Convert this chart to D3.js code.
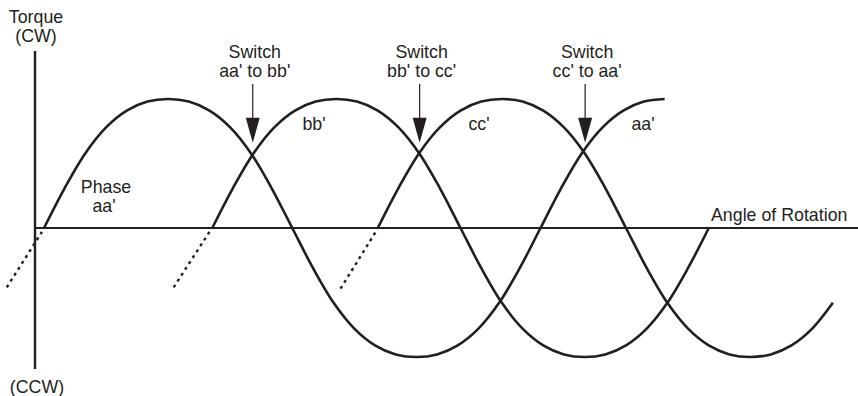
<!DOCTYPE html>
<html lang="en">
<head>
    <meta charset="utf-8">
    <title>Phase switching</title>
    <style>
        body {
            margin: 0;
            background: #fff;
        }
        text {
            font-family: "Liberation Sans", Arial, sans-serif;
            font-size: 17.8px;
            fill: #231f20;
        }
    </style>
</head>
<body>
<svg id="chart"></svg>
<script src="https://d3js.org/d3.v7.min.js"></script>
<script>
    const chartWidth = 858;
    const chartHeight = 396;

    // torque curves (angle in degrees, torque as fraction of peak)
    const aaAngle = [0, 15, 30, 45, 60, 75, 90, 105, 120, 135, 150, 165, 180, 195, 210, 225, 240, 255, 270, 285, 300, 315, 330, 345, 360, 375, 390, 405, 420, 435, 450];
    const aaTorque = [0, .31, .58, .78, .91, .98, 1, .98, .91, .78, .58, .31, 0, -.31, -.58, -.78, -.91, -.98, -1, -.98, -.91, -.78, -.58, -.31, 0, .31, .58, .78, .91, .98, 1];
    const bbAngle = [122, 137, 152, 167, 182, 197, 212, 227, 242, 257, 272, 287, 302, 317, 332, 347, 362, 377, 392, 407, 422, 437, 452, 467, 482];
    const bbTorque = [0, .31, .58, .78, .91, .98, 1, .98, .91, .78, .58, .31, 0, -.31, -.58, -.78, -.91, -.98, -1, -.98, -.91, -.78, -.58, -.31, 0];
    const ccAngle = [242, 257, 272, 287, 302, 317, 332, 347, 362, 377, 392, 407, 422, 437, 452, 467, 482, 497, 512, 527, 542, 557, 572];
    const ccTorque = [0, .31, .58, .78, .91, .98, 1, .98, .91, .78, .58, .31, 0, -.31, -.58, -.78, -.91, -.98, -1, -.98, -.91, -.78, -.58];

    // dotted lead-ins below the axis
    const aaLeadAngle = [-27, -1.5];
    const aaLeadTorque = [-.46, -.03];
    const bbLeadAngle = [94, 120];
    const bbLeadTorque = [-.46, -.03];
    const ccLeadAngle = [215, 240.5];
    const ccLeadTorque = [-.47, -.03];

    // switching points
    const switchAngle = [151, 272, 392];
    const switchTorque = [.56, .56, .56];
    const switchLine1 = ["Switch", "Switch", "Switch"];
    const switchLine2 = ["aa' to bb'", "bb' to cc'", "cc' to aa'"];

    const svg = d3.select("#chart").attr("width", chartWidth).attr("height", chartHeight);

    const x = d3.scaleLinear().domain([0, 360]).range([44, 540.5]);
    const y = d3.scaleLinear().domain([-1, 1]).range([357, 99]);

    const axisX = 35;
    const ink = "#231f20";

    //axes
    svg.append("line")
        .attr("x1", axisX).attr("x2", axisX)
        .attr("y1", 51).attr("y2", 369)
        .attr("stroke", ink).attr("stroke-width", 2.4);
    svg.append("line")
        .attr("x1", axisX).attr("x2", chartWidth)
        .attr("y1", y(0)).attr("y2", y(0))
        .attr("stroke", ink).attr("stroke-width", 2);

    const zip = (a, t) => a.map((d, i) => [d, t[i]]);
    const curve = d3.line()
        .x(d => x(d[0]))
        .y(d => y(d[1]))
        .curve(d3.curveCatmullRom);
    const straight = d3.line()
        .x(d => x(d[0]))
        .y(d => y(d[1]));

    [[aaAngle, aaTorque], [bbAngle, bbTorque], [ccAngle, ccTorque]].forEach(function(s) {
        svg.append("path")
            .attr("d", curve(zip(s[0], s[1])))
            .attr("fill", "none")
            .attr("stroke", ink)
            .attr("stroke-width", 2.6);
    });

    [[aaLeadAngle, aaLeadTorque], [bbLeadAngle, bbLeadTorque], [ccLeadAngle, ccLeadTorque]].forEach(function(s) {
        svg.append("path")
            .attr("d", straight(zip(s[0], s[1])))
            .attr("fill", "none")
            .attr("stroke", ink)
            .attr("stroke-width", 2.4)
            .attr("stroke-dasharray", "3,4");
    });

    //switch arrows + labels
    switchAngle.forEach(function(a, i) {
        const sx = x(a) + 0.5;
        const tip = y(switchTorque[i]) - 13;
        svg.append("line")
            .attr("x1", sx).attr("x2", sx)
            .attr("y1", 84).attr("y2", tip - 20)
            .attr("stroke", ink).attr("stroke-width", 1.2);
        svg.append("path")
            .attr("d", "M" + (sx - 7) + "," + (tip - 25) + "L" + (sx + 7) + "," + (tip - 25) + "L" + sx + "," + tip + "Z")
            .attr("fill", ink);
        svg.append("text")
            .attr("x", sx + 2).attr("y", 58)
            .attr("text-anchor", "middle")
            .text(switchLine1[i]);
        svg.append("text")
            .attr("x", sx + 2).attr("y", 77)
            .attr("text-anchor", "middle")
            .text(switchLine2[i]);
    });

    //other labels
    const labels = [
        {t: "Torque", x: 36, y: 23},
        {t: "(CW)", x: 36, y: 42},
        {t: "(CCW)", x: 37, y: 393},
        {t: "Phase", x: 106, y: 193},
        {t: "aa'", x: 104, y: 212},
        {t: "bb'", x: 314, y: 130},
        {t: "cc'", x: 479, y: 130},
        {t: "aa'", x: 643, y: 130}
    ];
    svg.selectAll(".lbl")
        .data(labels)
        .enter()
        .append("text")
        .attr("class", "lbl")
        .attr("x", d => d.x)
        .attr("y", d => d.y)
        .attr("text-anchor", "middle")
        .text(d => d.t);

    svg.append("text")
        .attr("x", 711).attr("y", 221)
        .text("Angle of Rotation");
</script>
</body>
</html>
